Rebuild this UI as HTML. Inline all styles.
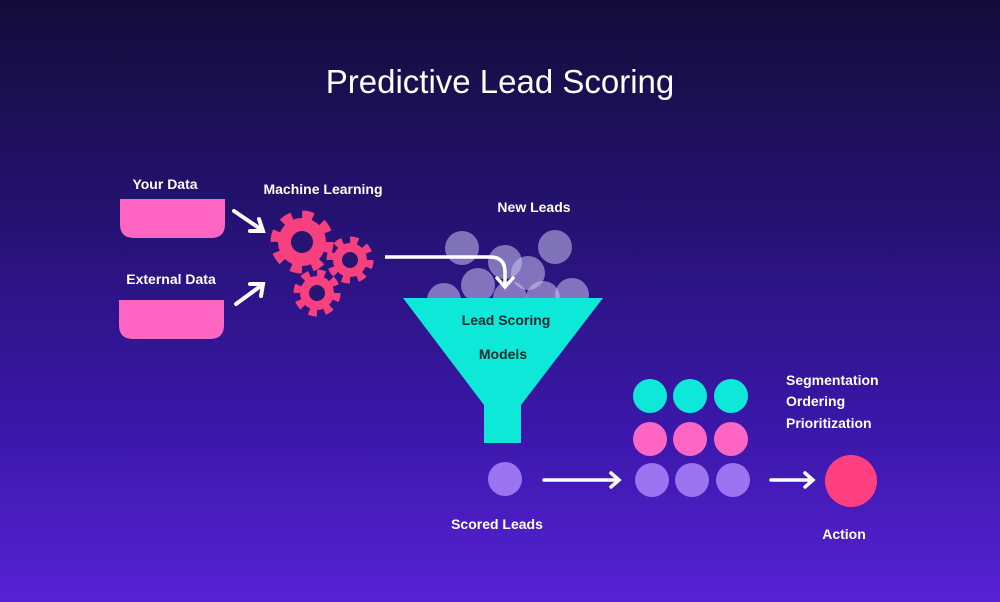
<!DOCTYPE html>
<html><head><meta charset="utf-8"><style>
html,body{margin:0;padding:0;}
body{width:1000px;height:602px;overflow:hidden;background:linear-gradient(180deg,#130d38 0%,#241270 35%,#3a17a8 70%,#5622d4 100%);font-family:"Liberation Sans",sans-serif;}
svg{display:block}
</style></head><body>
<svg width="1000" height="602" viewBox="0 0 1000 602" xmlns="http://www.w3.org/2000/svg">
<text x="500" y="93" text-anchor="middle" fill="#fff" font-size="33" font-family="Liberation Sans, sans-serif">Predictive Lead Scoring</text>
<g fill="#fff" font-weight="bold" font-size="14">
<text x="165" y="189" text-anchor="middle">Your Data</text>
<text x="171" y="284" text-anchor="middle">External Data</text>
<text x="323" y="194" text-anchor="middle">Machine Learning</text>
<text x="534" y="212" text-anchor="middle">New Leads</text>
<text x="497" y="529" text-anchor="middle">Scored Leads</text>
<text x="786" y="385">Segmentation</text>
<text x="786" y="406">Ordering</text>
<text x="786" y="428">Prioritization</text>
<text x="844" y="539" text-anchor="middle">Action</text>
</g>
<path d="M120,199 H225 V224 Q225,238 211,238 H134 Q120,238 120,224 Z" fill="#ff66c4"/>
<path d="M119,300 H224 V325 Q224,339 210,339 H133 Q119,339 119,325 Z" fill="#ff66c4"/>
<g stroke="#fff" stroke-width="4" fill="none" stroke-linecap="round">
<line x1="234" y1="211" x2="262" y2="230"/><path d="M250,231 L263,231 L259,219"/>
<line x1="236" y1="304" x2="262" y2="285"/><path d="M250,284 L263,284 L261,296"/>
</g>
<g fill="#f7417f">
<circle cx="302" cy="242" r="24"/><circle cx="302" cy="242" r="27" fill="none" stroke="#f7417f" stroke-width="9" stroke-dasharray="11 10.2"/>
<circle cx="350" cy="260" r="17"/><circle cx="350" cy="260" r="20" fill="none" stroke="#f7417f" stroke-width="7" stroke-dasharray="8 7.7"/>
<circle cx="317" cy="293" r="17"/><circle cx="317" cy="293" r="20" fill="none" stroke="#f7417f" stroke-width="7" stroke-dasharray="8 7.7"/>
</g>
<g fill="#251470"><circle cx="302" cy="242" r="11"/><circle cx="350" cy="260" r="8"/><circle cx="317" cy="293" r="8"/></g>
<g fill="#c9c3ec" fill-opacity="0.55">
<circle cx="462" cy="248" r="17"/><circle cx="555" cy="247" r="17"/><circle cx="505" cy="262" r="17"/><circle cx="528" cy="273" r="17"/><circle cx="478" cy="285" r="17"/><circle cx="444" cy="300" r="17"/><circle cx="510" cy="298" r="17"/><circle cx="543" cy="298" r="17"/><circle cx="572" cy="295" r="17"/>
</g>
<path d="M403,298 H603 L521,405 V443 H484 V405 Z" fill="#0ee8d8"/>
<text x="506" y="325" text-anchor="middle" font-weight="bold" font-size="14" fill="#0d2b2e">Lead Scoring</text>
<text x="503" y="359" text-anchor="middle" font-weight="bold" font-size="14" fill="#0d2b2e">Models</text>
<path d="M385,257 H490 Q505,257 505,272 V286" fill="none" stroke="#fff" stroke-width="3.5"/>
<path d="M497,278 L505,287 L513,278" fill="none" stroke="#fff" stroke-width="3.5" stroke-linecap="round"/>
<circle cx="505" cy="479" r="17" fill="#9c73f0"/>
<g fill="#0ee8d8"><circle cx="650" cy="396" r="17"/><circle cx="690" cy="396" r="17"/><circle cx="731" cy="396" r="17"/></g>
<g fill="#ff66c4"><circle cx="650" cy="439" r="17"/><circle cx="690" cy="439" r="17"/><circle cx="731" cy="439" r="17"/></g>
<g fill="#9c73f0"><circle cx="652" cy="480" r="17"/><circle cx="692" cy="480" r="17"/><circle cx="733" cy="480" r="17"/></g>
<circle cx="851" cy="481" r="26" fill="#ff3f7f"/>
<g stroke="#fff" stroke-width="3.5" fill="none" stroke-linecap="round">
<line x1="544" y1="480" x2="618" y2="480"/><path d="M611,473 L619,480 L611,487"/>
<line x1="771" y1="480" x2="812" y2="480"/><path d="M805,473 L813,480 L805,487"/>
</g>
</svg>
</body></html>
